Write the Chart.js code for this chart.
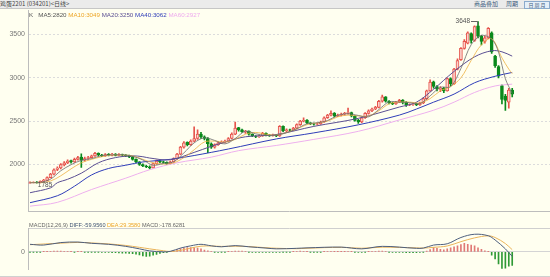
<!DOCTYPE html>
<html>
<head>
<meta charset="utf-8">
<script src="https://cdn.jsdelivr.net/npm/chart.js@4.4.0/dist/chart.umd.min.js"></script>
<style>
  body { margin: 0; width: 550px; height: 277px; background: #fffff0; overflow: hidden; position: relative;
         font-family: "Liberation Sans", Arial, sans-serif; }
  #topbar { position: absolute; left: 0; top: 0; width: 550px; height: 8px; background: #ebebeb; border-bottom: 1px solid #c6c6c6; }
  #title { position: absolute; left: 0; top: 0; font-size: 6px; line-height: 8px; color: #444;
           font-family: "Noto Sans CJK SC", "Liberation Sans", sans-serif; white-space: nowrap; }
  .btn { position: absolute; top: 0; font-size: 6px; line-height: 8px; color: #3b5b7b; white-space: nowrap;
         font-family: "Noto Sans CJK SC", sans-serif; }
  #box { position: absolute; left: 524px; top: 1px; width: 24px; height: 6px; border: 1px solid #8aaacc; background: #e4eef8;
         font-size: 5px; line-height: 6px; color: #3b5b7b; text-align: center; font-family: "Noto Sans CJK SC", sans-serif; }
  #kwrap { position: absolute; left: 0; top: 0; width: 550px; height: 219px; }
  #mwrap { position: absolute; left: 0; top: 221px; width: 550px; height: 56px; }
  #legend, #macdLegend { position: absolute; left: 29px; white-space: nowrap; }
  #legend { top: 11px; font-size: 6.2px; line-height: 7px; }
  #macdLegend { top: 222px; font-size: 5.6px; line-height: 7px; color: #666; }
  #bottomLine { position: absolute; left: 0; top: 276px; width: 550px; height: 1px; background: #d0d0d0; }
</style>
</head>
<body>
<div id="topbar"></div>
<div id="title">鸡蛋2201 (034201)&lt;日线&gt;</div>
<div class="btn" style="left:474px">商品叠加</div>
<div class="btn" style="left:506px">周期</div>
<div id="box">日 周 月</div>

<div id="kwrap"><canvas id="kline"></canvas></div>
<div id="mwrap"><canvas id="macd"></canvas></div>
<div id="bottomLine"></div>

<div id="legend">
  <span style="color:#555">K</span>&nbsp;&nbsp;
  <span style="color:#555">MA5:2820</span>
  <span style="color:#eda526">MA10:3049</span>
  <span style="color:#5b4f93">MA20:3250</span>
  <span style="color:#2f3db8">MA40:3062</span>
  <span style="color:#eeaaee">MA60:2927</span>
</div>
<div id="macdLegend">
  MACD(12,26,9) <span style="color:#3f5372">DIFF:-59.9560</span>
  <span style="color:#eda526">DEA:29.3580</span>
  <span style="color:#666">MACD:-178.6281</span>
</div>

<script>
// daily candles
const opens = [
  1785, 1792, 1798, 1790, 1805, 1818, 1850, 1888, 1945, 1960,
  1995, 2020, 2045, 2030, 2060, 2085, 2050, 2070, 2080, 2100,
  2128, 2110, 2100, 2118, 2108, 2120, 2105, 2115, 2110, 2100,
  2088, 2060, 2030, 2000, 1980, 1975, 1962, 2010, 2042, 2030,
  2025, 2010, 2030, 2068, 2120, 2200, 2255, 2230, 2270, 2300,
  2350, 2320, 2300, 2240, 2200, 2228, 2250, 2258, 2270, 2300,
  2350, 2425, 2400, 2372, 2385, 2350, 2322, 2320, 2330, 2360,
  2340, 2335, 2342, 2330, 2440, 2390, 2400, 2395, 2420, 2460,
  2500, 2512, 2480, 2470, 2465, 2470, 2490, 2540, 2570, 2592,
  2560, 2570, 2580, 2590, 2600, 2560, 2510, 2490, 2540, 2590,
  2620, 2640, 2660, 2730, 2780, 2730, 2710, 2700, 2720, 2742,
  2720, 2688, 2692, 2702, 2690, 2710, 2760, 2850, 2955, 2900,
  2865, 2880, 2850, 2990, 2930, 3100, 3210, 3340, 3400, 3510,
  3430, 3600, 3480, 3420, 3460, 3520, 3250, 3130, 2910, 2790,
  2720, 2860
];
const closes = [
  1790, 1795, 1790, 1805, 1820, 1850, 1890, 1940, 1960, 2000,
  2020, 2040, 2030, 2060, 2080, 2050, 2070, 2080, 2100, 2130,
  2110, 2100, 2115, 2110, 2120, 2105, 2115, 2110, 2100, 2090,
  2060, 2030, 2000, 1985, 1975, 1960, 2010, 2040, 2030, 2025,
  2010, 2030, 2070, 2120, 2200, 2250, 2230, 2270, 2300, 2350,
  2320, 2300, 2240, 2200, 2230, 2250, 2260, 2270, 2300, 2350,
  2420, 2400, 2380, 2385, 2350, 2330, 2320, 2330, 2360, 2340,
  2335, 2340, 2330, 2440, 2390, 2400, 2395, 2420, 2460, 2500,
  2510, 2480, 2470, 2465, 2470, 2490, 2540, 2570, 2590, 2560,
  2570, 2580, 2590, 2600, 2560, 2510, 2490, 2540, 2590, 2620,
  2640, 2660, 2730, 2780, 2730, 2710, 2700, 2720, 2740, 2720,
  2690, 2692, 2700, 2690, 2710, 2760, 2850, 2950, 2900, 2870,
  2880, 2850, 2990, 2930, 3100, 3200, 3340, 3420, 3520, 3430,
  3590, 3480, 3420, 3460, 3570, 3300, 3140, 3020, 2750, 2740,
  2860, 2810
];
const highs = [
  1800, 1802, 1803, 1812, 1830, 1858, 1900, 1950, 1975, 2010,
  2035, 2055, 2050, 2075, 2095, 2123, 2085, 2095, 2110, 2140,
  2135, 2118, 2125, 2125, 2130, 2125, 2125, 2122, 2115, 2108,
  2095, 2065, 2035, 2008, 1992, 1985, 2018, 2050, 2048, 2040,
  2030, 2040, 2078, 2130, 2210, 2265, 2262, 2285, 2436, 2400,
  2370, 2330, 2310, 2250, 2240, 2260, 2272, 2282, 2312, 2365,
  2490, 2430, 2408, 2395, 2390, 2355, 2335, 2340, 2370, 2365,
  2348, 2350, 2348, 2450, 2445, 2412, 2408, 2430, 2470, 2510,
  2540, 2518, 2485, 2478, 2480, 2500, 2550, 2580, 2620, 2598,
  2582, 2592, 2602, 2650, 2605, 2565, 2520, 2550, 2600, 2630,
  2652, 2672, 2740, 2800, 2785, 2738, 2718, 2730, 2752, 2748,
  2725, 2700, 2712, 2708, 2720, 2770, 2860, 2977, 2962, 2910,
  2900, 2890, 3000, 3000, 3110, 3220, 3350, 3440, 3530, 3520,
  3600, 3648, 3490, 3480, 3580, 3530, 3260, 3140, 2920, 2810,
  2880, 2880
];
const lows = [
  1786, 1787, 1785, 1788, 1800, 1812, 1845, 1880, 1930, 1950,
  1985, 2010, 2015, 2025, 2050, 1966, 2040, 2060, 2075, 2095,
  2100, 2090, 2095, 2100, 2100, 2098, 2100, 2100, 2090, 2080,
  2050, 2020, 1990, 1975, 1965, 1950, 1958, 2000, 2020, 2015,
  2000, 2005, 2025, 2060, 2115, 2190, 2215, 2220, 2260, 2290,
  2300, 2285, 2137, 2185, 2190, 2220, 2240, 2250, 2262, 2295,
  2345, 2385, 2370, 2360, 2340, 2320, 2310, 2312, 2325, 2330,
  2325, 2328, 2320, 2325, 2380, 2380, 2385, 2390, 2412, 2450,
  2490, 2470, 2460, 2455, 2458, 2462, 2485, 2532, 2560, 2550,
  2552, 2562, 2570, 2580, 2550, 2500, 2475, 2482, 2532, 2582,
  2610, 2632, 2652, 2720, 2720, 2700, 2690, 2692, 2712, 2700,
  2670, 2680, 2682, 2680, 2682, 2702, 2752, 2842, 2880, 2850,
  2840, 2830, 2845, 2910, 2925, 3090, 3200, 3330, 3390, 3400,
  3420, 3460, 3380, 3400, 3450, 3280, 3120, 3000, 2700, 2625,
  2650, 2780
];

// moving averages, [candle index, value]
const ma5 = [[0,1790],[3,1795],[6,1831],[9,1928],[12,1998],[15,2048],[18,2068],[21,2104],[24,2111],[27,2113],
  [30,2095],[33,2053],[36,1992],[39,2013],[42,2033],[45,2134],[48,2250],[51,2308],[54,2278],[57,2238],
  [60,2300],[63,2384],[66,2354],[69,2336],[72,2337],[75,2367],[78,2413],[81,2470],[84,2481],[87,2507],
  [90,2566],[93,2586],[96,2566],[99,2550],[102,2634],[105,2722],[108,2720],[111,2714],[114,2702],[117,2792],
  [120,2890],[123,2898],[126,3108],[129,3382],[132,3488],[135,3446],[137,3298],[139,2990],[141,2820]];
const ma10 = [[0,1795],[3,1790],[6,1810],[9,1870],[12,1950],[15,2020],[18,2060],[21,2090],[24,2110],[27,2110],
  [30,2100],[33,2060],[36,2020],[39,2005],[42,2020],[45,2080],[48,2170],[51,2260],[54,2270],[57,2260],
  [60,2290],[63,2350],[66,2370],[69,2350],[72,2340],[75,2370],[78,2410],[81,2460],[84,2480],[87,2500],
  [90,2550],[93,2570],[96,2560],[99,2560],[102,2620],[105,2700],[108,2720],[111,2720],[114,2710],[117,2760],
  [120,2850],[123,2900],[126,3000],[129,3200],[132,3380],[135,3450],[138,3230],[140,3100],[141,3049]];
const ma20 = [[0,1675],[6,1731],[8,1790],[11,1830],[15,1900],[20,2020],[25,2080],[30,2100],[33,2090],[35,2075],
  [41,2055],[48,2140],[53,2210],[58,2270],[63,2320],[72,2346],[83,2440],[96,2533],[108,2663],[113,2719],
  [118,2868],[124,3074],[130,3242],[135,3312],[138,3300],[141,3250]];
const ma40 = [[0,1560],[8,1640],[13,1750],[18,1880],[23,1955],[28,1992],[33,2030],[41,2060],[48,2104],[58,2179],
  [72,2295],[83,2365],[96,2458],[108,2570],[113,2640],[118,2719],[124,2812],[130,2943],[136,3018],[141,3062]];
const ma60 = [[0,1520],[8,1564],[18,1712],[28,1843],[35,1940],[43,2020],[53,2085],[61,2160],[72,2220],[83,2290],
  [96,2383],[108,2514],[118,2626],[124,2719],[130,2831],[136,2906],[141,2927]];

// MACD(12,26,9)
const macdHist = [
  -3, -3, -2, -2, 2, 3,
  6, 9, 12, 10, 8, 5,
  3, -2, 2, 3, -3, -3, -4, -3, -2, -5, -6,
  -8, -10, -12, -14, -16, -18, -20, -25, -30,
  -40, -53, -60, -58, -45,
  -33, -20, -10, -4, 3,
  15, 30, 42, 50, 56, 58, 55, 50, 40, 25,
  13, 5, -3, -5, -4, -3, 3,
  8, 12, 12, 10, 6,
  -3, -5, -7, -8, -8, -7, -6, -5, -5, -6, -4, -3, -2, 3,
  6, 9, 8, 4,
  -2, -3, -3, -2, 3, 5, 6, 4, 2, 3, 4, 5, 4, -2, -5, -6, -3, 3, 5, 7,
  10, 9, 5,
  -3, -5, -6, -7, -8, -9, -10, -10, -9, -7, -3,
  12, 30, 56, 47, 33, 28, 40, 55, 67, 80, 95, 113, 100, 90, 80, 55, 35, 13,
  3,
  -43, -93, -160, -220, -215, -190, -179
];
const diffLine = [[0,100],[4,90],[9,123],[14,130],[18,113],[23,100],[28,73],[32,40],[35,13],[39,0],
  [41,7],[44,50],[47,80],[50,100],[53,80],[56,67],[60,83],[64,67],[69,50],[72,40],
  [78,47],[81,53],[91,63],[97,40],[103,73],[113,47],[115,50],[118,90],[122,107],[126,190],
  [130,233],[134,213],[136,157],[139,40],[141,-60]];
const deaLine = [[0,95],[9,115],[14,125],[18,118],[23,105],[28,85],[32,60],[35,40],[39,15],[41,5],
  [44,20],[47,50],[50,75],[53,78],[56,72],[60,75],[64,70],[69,55],[72,48],[78,42],
  [81,48],[91,60],[97,48],[103,62],[113,53],[115,50],[118,60],[122,78],[126,135],[130,185],
  [134,212],[136,190],[139,110],[141,29]];

const priceTicks = [2000, 2500, 3000, 3500];
const macdTicks = [0];

const UP = "#e6544c";
const UP_FILL = "#fbd2cc";
const DOWN = "#0b8a1c";
const TICK_FONT = { family: "Liberation Sans", size: 7 };

const pts = (arr) => arr.map(([x, y]) => ({ x: x, y: y }));
const isUp = (i) => closes[i] >= opens[i];

function maLine(label, data, color, width) {
  return {
    type: "line",
    label: label,
    data: pts(data),
    borderColor: color,
    borderWidth: width,
    pointRadius: 0,
    tension: 0.35,
    order: 0,
  };
}

// high / low markers
const markLabels = {
  id: "markLabels",
  afterDatasetsDraw(chart) {
    const { ctx, scales } = chart;
    const hi = Math.max(...highs);
    const lo = Math.min(...lows);
    const hx = scales.x.getPixelForValue(highs.indexOf(hi));
    const hy = scales.y.getPixelForValue(hi);
    const lx = scales.x.getPixelForValue(lows.indexOf(lo));
    const ly = scales.y.getPixelForValue(lo);
    ctx.save();
    ctx.font = '6.5px "Liberation Sans", Arial';
    ctx.fillStyle = "#555";
    ctx.strokeStyle = "#666";
    ctx.lineWidth = 1;
    ctx.textBaseline = "middle";
    ctx.textAlign = "right";
    ctx.fillText(String(hi), hx - 8, hy - 0.5);
    ctx.beginPath();
    ctx.moveTo(hx - 7, Math.round(hy) - 0.5);
    ctx.lineTo(Math.round(hx) - 0.5, Math.round(hy) - 0.5);
    ctx.lineTo(Math.round(hx) - 0.5, hy + 3);
    ctx.stroke();
    ctx.textAlign = "left";
    ctx.fillText(String(lo), lx + 1, ly + 2);
    ctx.restore();
  },
};

new Chart(document.getElementById("kline"), {
  type: "bar",
  data: {
    datasets: [
      maLine("MA5", ma5, "#6c6c6c", 0.8),
      maLine("MA10", ma10, "#eeb143", 0.8),
      maLine("MA20", ma20, "#5b4f93", 1),
      maLine("MA40", ma40, "#2f3db8", 1),
      maLine("MA60", ma60, "#eeb0ee", 1),
      {
        label: "body",
        data: opens.map((o, i) => ({ x: i, y: [o, closes[i]] })),
        backgroundColor: (c) => (isUp(c.dataIndex) ? UP_FILL : DOWN),
        borderColor: (c) => (isUp(c.dataIndex) ? UP : DOWN),
        borderWidth: 1,
        borderSkipped: false,
        barThickness: 3,
        grouped: false,
        order: 1,
      },
      {
        label: "wick",
        data: lows.map((l, i) => ({ x: i, y: [l, highs[i]] })),
        backgroundColor: (c) => (isUp(c.dataIndex) ? UP : DOWN),
        borderWidth: 0,
        barThickness: 1,
        grouped: false,
        order: 2,
      },
    ],
  },
  options: {
    responsive: true,
    maintainAspectRatio: false,
    animation: false,
    layout: { padding: { top: 10, right: 0, bottom: 1, left: 0 } },
    plugins: {
      legend: { display: false },
      tooltip: { enabled: false },
    },
    scales: {
      x: {
        type: "linear",
        min: -0.585,
        max: 152.05,
        offset: false,
        ticks: { display: false },
        grid: { display: false },
        border: { display: true, color: "#bdbdbd" },
        afterFit: (s) => { s.height = 0; },
      },
      y: {
        min: 1455,
        max: 3782,
        afterBuildTicks: (s) => { s.ticks = priceTicks.map((v) => ({ value: v })); },
        afterFit: (s) => { s.width = 28; },
        ticks: {
          color: "#777",
          font: TICK_FONT,
          padding: 3,
          callback: (value) => String(value),
        },
        grid: { color: "#dcdcdc", drawTicks: false },
        border: { color: "#bdbdbd", dash: [2, 2] },
      },
    },
  },
  plugins: [markLabels],
});

new Chart(document.getElementById("macd"), {
  type: "bar",
  data: {
    datasets: [
      {
        type: "line",
        label: "DIFF",
        data: pts(diffLine),
        borderColor: "#4d5f7e",
        borderWidth: 1,
        pointRadius: 0,
        tension: 0.35,
        order: 0,
      },
      {
        type: "line",
        label: "DEA",
        data: pts(deaLine),
        borderColor: "#eab45a",
        borderWidth: 1,
        pointRadius: 0,
        tension: 0.35,
        order: 0,
      },
      {
        label: "MACD",
        data: macdHist.map((v, i) => ({ x: i, y: v })),
        backgroundColor: (c) => (macdHist[c.dataIndex] >= 0 ? "#e07a76" : "#2f9a36"),
        borderWidth: 0,
        barThickness: 1,
        grouped: false,
        order: 1,
      },
    ],
  },
  options: {
    responsive: true,
    maintainAspectRatio: false,
    animation: false,
    layout: { padding: { top: 0, right: 0, bottom: 1, left: 0 } },
    plugins: {
      legend: { display: false },
      tooltip: { enabled: false },
    },
    scales: {
      x: {
        type: "linear",
        position: "top",
        min: -0.585,
        max: 152.05,
        offset: false,
        ticks: { display: false },
        grid: { display: false },
        border: { display: true, color: "#cfcfcf" },
        afterFit: (s) => { s.height = 0; },
      },
      y: {
        min: -237,
        max: 313,
        afterBuildTicks: (s) => { s.ticks = macdTicks.map((v) => ({ value: v })); },
        afterFit: (s) => { s.width = 28; },
        ticks: {
          color: "#777",
          font: TICK_FONT,
          padding: 3,
          callback: (value) => String(value),
        },
        grid: { color: "#d4d4d4", drawTicks: false },
        border: { color: "#bdbdbd" },
      },
    },
  },
});
</script>
</body>
</html>
